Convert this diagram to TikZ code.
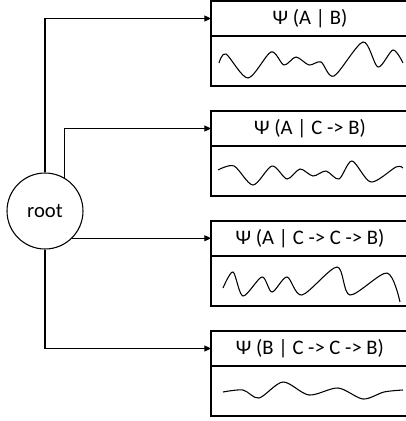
\documentclass[tikz,border=0pt]{standalone}
\usepackage{fontspec}
\setmainfont{Carlito}
\usetikzlibrary{arrows.meta,positioning}

\begin{document}
\begin{tikzpicture}[x=0.75pt, y=-0.75pt, node distance=18.75pt, line width=0.8pt,
    font=\fontsize{15.5}{18}\selectfont,
    head/.style={minimum height=26.25pt},
    body/.style={minimum height=37.5pt},
    elbow/.style={to path={|- (\tikztotarget)}}]
      \path[use as bounding box, clip] (0,0) rectangle (406,421);
      \node (root) [circle, draw, minimum size=57pt, inner sep=0pt] at (45,211) {root};
      \begin{scope}[every node/.style={rectangle, draw, outer sep=0pt, inner sep=0pt, minimum width=148.5pt}]
        \node (H1) [head, anchor=north west] at (211,1) {Ψ (A | B)};
        \node (B1) [body, below=0pt of H1] {};
        \node (H2) [head, below=of B1] {Ψ (A | C -> B)};
        \node (B2) [body, below=0pt of H2] {};
        \node (H3) [head, below=of B2] {Ψ (A | C -> C -> B)};
        \node (B3) [body, below=0pt of H3] {};
        \node (H4) [head, below=of B3] {Ψ (B | C -> C -> B)};
        \node (B4) [body, below=0pt of H4] {};
      \end{scope}
      % waves
      \draw plot[smooth] coordinates {(219,63) (226,54) (248,78) (271,52) (284,65) (296,57)
        (309,65) (321,62) (334,76) (363,42) (378,67) (393,50) (403,63)};
      \draw plot[smooth] coordinates {(218,170) (234,166) (253,185) (272,166) (287,179) (300,169)
        (313,176) (326,171) (339,179) (352,161) (371,182) (396,167) (403,168)};
      \draw plot[smooth] coordinates {(223,288) (233,272) (243,296) (262,277) (272,292) (287,277)
        (302,295) (337,267) (350,295) (387,273) (400,302)};
      \draw plot[smooth] coordinates {(223,392) (243,390) (259,398) (283,382) (309,395) (338,388)
        (363,399) (384,392) (403,390)};
      \begin{scope}[every edge/.style={draw, -{Triangle[length=5pt, width=4.5pt]}}]
        \path (root.north) edge[elbow] (H1.west);
        \path (root.60) edge[elbow] (H2.west);
        \path (root.-45) edge (root.-45 -| H3.west);
        \path (root.south) edge[elbow] (H4.west);
      \end{scope}
    \end{tikzpicture}
\end{document}
